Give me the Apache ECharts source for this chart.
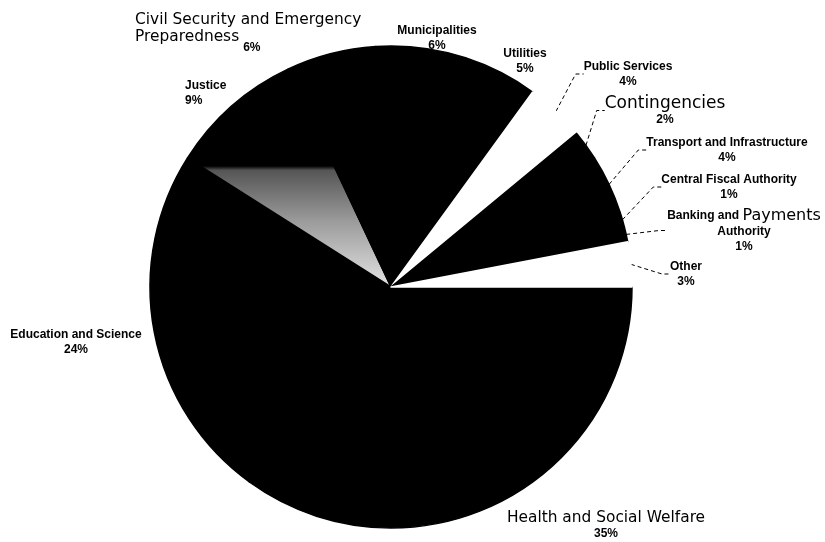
<!DOCTYPE html>
<html>
<head>
<meta charset="utf-8">
<script src="https://cdn.jsdelivr.net/npm/echarts@6/dist/echarts.min.js"></script>
<style>
html,body{margin:0;padding:0;background:#fff;}
#chart{width:825px;height:542px;}
</style>
</head>
<body>
<div id="chart"></div>
<script>
// ---- data ----
const categories = [
  'Health and Social Welfare',
  'Education and Science',
  'Justice',
  'Civil Security and Emergency Preparedness',
  'Municipalities',
  'Utilities',
  'Public Services',
  'Contingencies',
  'Transport and Infrastructure',
  'Central Fiscal Authority',
  'Banking and Payments Authority',
  'Other'
];
const shares = [35, 24, 9, 6, 6, 5, 4, 2, 4, 1, 1, 3];

// ---- styling (not data) ----
const justiceFill = {
  type: 'linear', global: true, x: 0, y: 166, x2: 0, y2: 287,
  colorStops: [
    {offset: 0, color: '#000'},
    {offset: 0.035, color: '#555'},
    {offset: 0.45, color: '#9a9a9a'},
    {offset: 1, color: '#e4e4e4'}
  ]
};
const sliceColors = ['#000', '#000', justiceFill, '#000', '#000', '#000',
                     '#fff', '#000', '#000', '#000', '#000', '#fff'];
const sliceBorders = ['#000', '#000', '#000', '#000', '#000', '#000',
                      '#fff', '#000', '#000', '#000', '#000', '#fff'];
const showLine = [false, false, false, false, false, false, true, true, true, true, true, true];
// label anchor [x, y, align, verticalAlign]
const labelPos = [
  [606, 525, 'center', 'middle'],
  [76, 342, 'center', 'middle'],
  [185, 93, 'left', 'middle'],
  [135, 10, 'left', 'top'],
  [437, 38, 'center', 'middle'],
  [525, 61, 'center', 'middle'],
  [628, 74, 'center', 'middle'],
  [665, 111, 'center', 'middle'],
  [727, 150, 'center', 'middle'],
  [729, 187, 'center', 'middle'],
  [744, 231, 'center', 'middle'],
  [686, 274, 'center', 'middle']
];

const FONT = '"Liberation Sans", Arial, sans-serif';
const WIDE = '"DejaVu Sans", "Liberation Sans", sans-serif';

function fmt(p) {
  const i = p.dataIndex, v = p.value + '%';
  if (i === 0) return '{big|' + p.name + '}\n{pct|' + v + '}';
  if (i === 7) return '{bigC|' + p.name + '}\n{pct|' + v + '}';
  if (i === 3) {
    const w = p.name.split(' ');
    return '{bigL|' + w.slice(0, 4).join(' ') + '}\n{bigT|' + w.slice(4).join(' ') + '}{low|' + v + '}';
  }
  if (i === 10) {
    const w = p.name.split(' ');
    return '{sm|' + w[0] + ' ' + w[1] + ' }{bigP|' + w[2] + '}\n{sm|' + w[3] + '}\n{pct|' + v + '}';
  }
  return '{sm|' + p.name + '}\n{pct|' + v + '}';
}

const chart = echarts.init(document.getElementById('chart'), null, {renderer: 'canvas'});
chart.setOption({
  backgroundColor: '#fff',
  animation: false,
  series: [{
    type: 'pie',
    center: [391, 287],
    radius: [0, 241],
    startAngle: 0,
    clockwise: true,
    avoidLabelOverlap: false,
    silent: true,
    data: categories.map((c, i) => ({
      name: c,
      value: shares[i],
      itemStyle: {color: sliceColors[i], borderColor: sliceBorders[i], borderWidth: 1.5},
      labelLine: {show: showLine[i]}
    })),
    label: {
      show: true,
      formatter: fmt,
      color: '#000',
      fontFamily: FONT,
      rich: {
        big: {fontSize: 15.4, fontFamily: WIDE, color: '#000', lineHeight: 17},
        bigP: {fontSize: 16, fontFamily: WIDE, color: '#000', lineHeight: 17},
        bigC: {fontSize: 17, fontFamily: WIDE, color: '#000', lineHeight: 18},
        bigL: {fontSize: 15.4, fontFamily: WIDE, color: '#000', lineHeight: 19, align: 'left'},
        bigT: {fontSize: 15.4, fontFamily: WIDE, color: '#000', lineHeight: 19, align: 'left', verticalAlign: 'top'},
        low: {fontSize: 12, fontWeight: 'bold', fontFamily: FONT, color: '#000', lineHeight: 13, align: 'left', verticalAlign: 'top', padding: [13, 0, 0, 4]},
        sm: {fontSize: 12, fontWeight: 'bold', fontFamily: FONT, color: '#000', lineHeight: 15},
        pct: {fontSize: 12, fontWeight: 'bold', fontFamily: FONT, color: '#000', lineHeight: 15}
      }
    },
    labelLine: {
      show: false,
      length: 8,
      length2: 8,
      lineStyle: {color: '#000', width: 1, type: [4, 3]}
    },
    labelLayout: function (params) {
      const p = labelPos[params.dataIndex];
      return {x: p[0], y: p[1], align: p[2], verticalAlign: p[3]};
    }
  }]
});
</script>
</body>
</html>
